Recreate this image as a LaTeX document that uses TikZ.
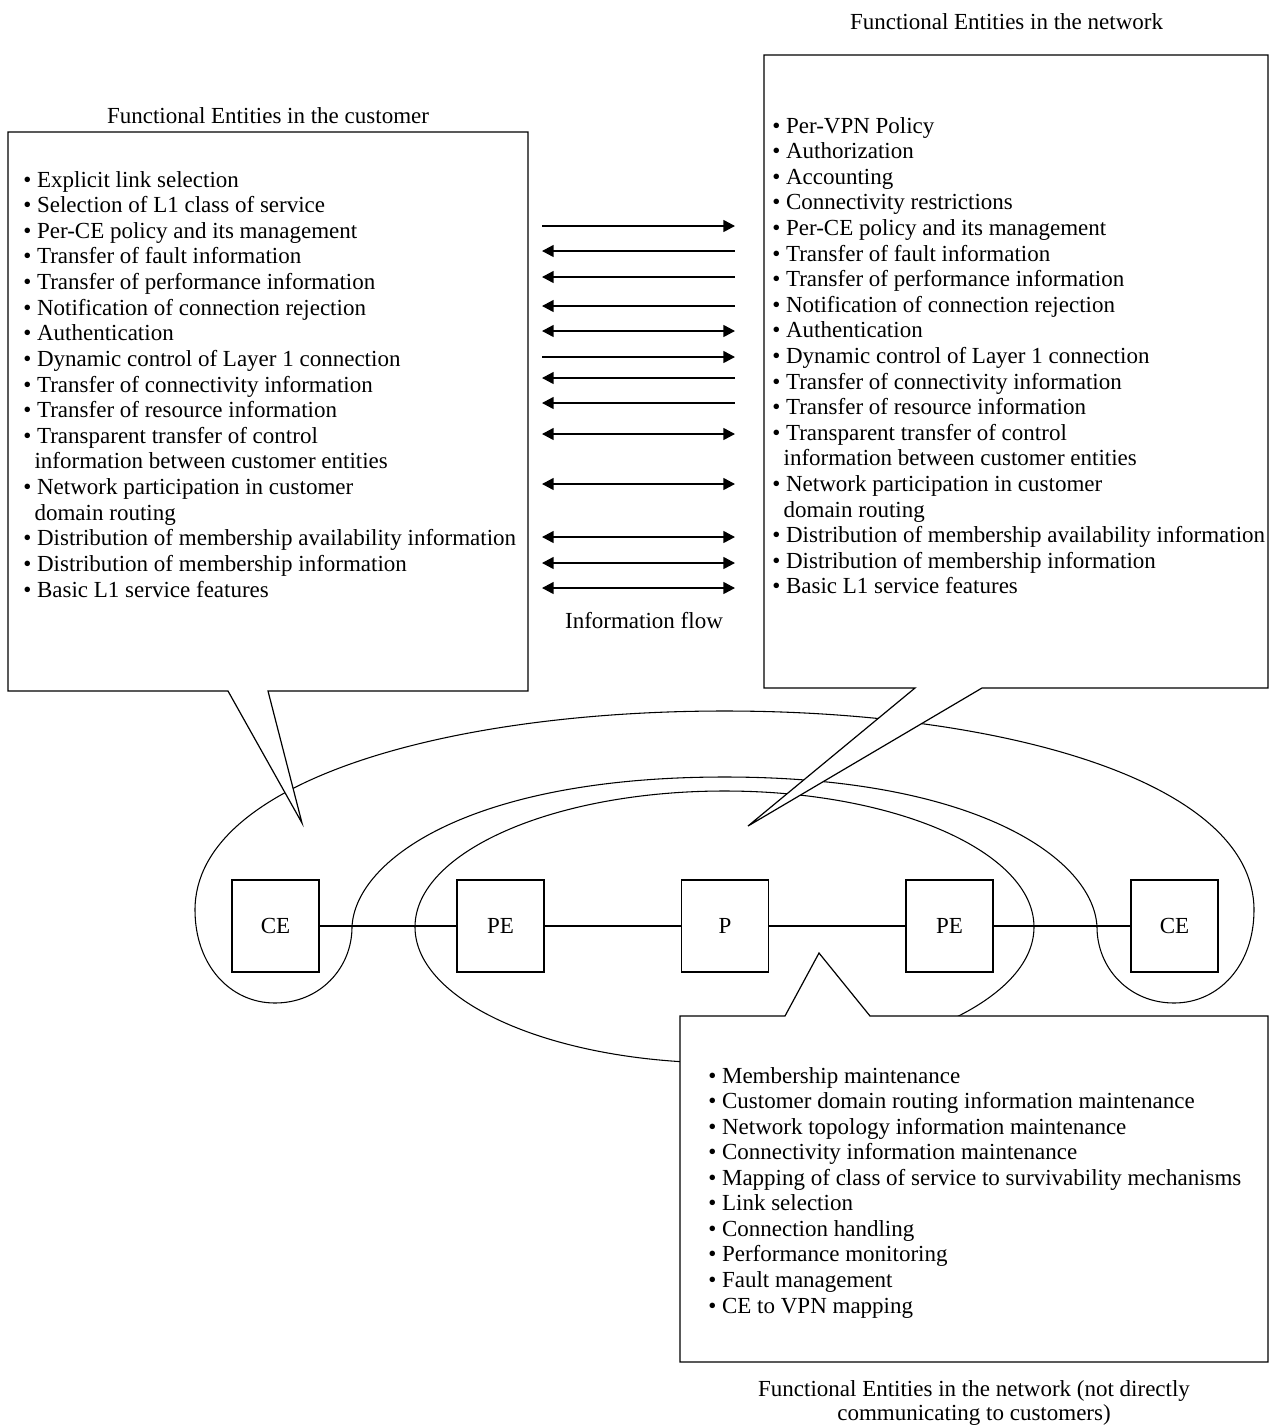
\documentclass[tikz,border=0pt]{standalone}
\usepackage{fontspec}
\setmainfont{Liberation Serif}
\usetikzlibrary{arrows.meta}

\begin{document}
\begin{tikzpicture}[x=0.75pt,y=-0.75pt,
  txt/.style={anchor=base west,inner sep=0pt,font=\fontsize{17.25}{20}\selectfont},
  ctxt/.style={anchor=base,inner sep=0pt,font=\fontsize{17.25}{20}\selectfont},
  entity/.style={draw,line width=0.9pt,fill=white,minimum width=65.25pt,minimum height=69pt,
                 inner sep=0pt,font=\fontsize{17.25}{20}\selectfont},
  callout/.style={draw,line width=0.9pt,fill=white,line join=miter},
  region/.style={draw,line width=0.8pt},
  link/.style={draw,line width=0.8pt},
  flow/.style={line width=1.3pt},
  flowtip/.tip={Triangle[length=8.8pt,width=9pt]}]

\useasboundingbox (0,0) rectangle (1278,1425);
\fill[white] (0,0) rectangle (1278,1425);

% outer region: both customer sites and the provider network
\path[region] (724.5,711)
  .. controls (450,711) and (195,780) .. (195,910)
  .. controls (195,965) and (230,1003) .. (275,1003)
  .. controls (320,1003) and (352,968) .. (352,927)
  .. controls (355,860) and (470,777) .. (724.5,777)
  .. controls (979,777) and (1094,860) .. (1097,927)
  .. controls (1097,968) and (1129,1003) .. (1174,1003)
  .. controls (1219,1003) and (1254,965) .. (1254,910)
  .. controls (1254,780) and (999,711) .. (724.5,711) -- cycle;

% inner region: provider network
\path[region] (724.5,927) ellipse [x radius=309.5, y radius=136];

% network elements
\node[entity] (ce1) at (275.5,926) {CE};
\node[entity] (pe1) at (500.5,926) {PE};
\node[entity] (p)   at (725,926)   {P};
\node[entity] (pe2) at (949.5,926) {PE};
\node[entity] (ce2) at (1174.5,926) {CE};
\path[link] (ce1) -- (pe1);
\path[link] (pe1) -- (p);
\path[link] (p) -- (pe2);
\path[link] (pe2) -- (ce2);

% callouts
\path[callout] (8,132) -- (528,132) -- (528,691) -- (268,691) -- (302,823)
  -- (228,691) -- (8,691) -- cycle;
\path[callout] (764,55) -- (1268,55) -- (1268,688) -- (982,688) -- (748,826)
  -- (915,688) -- (764,688) -- cycle;
\path[callout] (680,1016) -- (785,1016) -- (819,953) -- (870,1016) -- (1268,1016)
  -- (1268,1362) -- (680,1362) -- cycle;

% titles
\node[ctxt] (tcust) at (268,123) {Functional Entities in the customer};
\node[ctxt] (tnet) at (1006.5,29) {Functional Entities in the network};
\node[ctxt] (tcore1) at (974,1396) {Functional Entities in the network (not directly};
\node[ctxt] (tcore2) at (974,1420) {communicating to customers)};
\node[ctxt] (tflow) at (644,628) {Information flow};

% customer side list
\foreach \t [count=\i] in {
  {• Explicit link selection},
  {• Selection of L1 class of service},
  {• Per-CE policy and its management},
  {• Transfer of fault information},
  {• Transfer of performance information},
  {• Notification of connection rejection},
  {• Authentication},
  {• Dynamic control of Layer 1 connection},
  {• Transfer of connectivity information},
  {• Transfer of resource information},
  {• Transparent transfer of control},
  {\hspace*{8.5pt}information between customer entities},
  {• Network participation in customer},
  {\hspace*{8.5pt}domain routing},
  {• Distribution of membership availability information},
  {• Distribution of membership information},
  {• Basic L1 service features}}
  \node[txt] (cl\i) at (23,{187+(\i-1)*25.625}) {\t};

% network side list
\foreach \t [count=\i] in {
  {• Per-VPN Policy},
  {• Authorization},
  {• Accounting},
  {• Connectivity restrictions},
  {• Per-CE policy and its management},
  {• Transfer of fault information},
  {• Transfer of performance information},
  {• Notification of connection rejection},
  {• Authentication},
  {• Dynamic control of Layer 1 connection},
  {• Transfer of connectivity information},
  {• Transfer of resource information},
  {• Transparent transfer of control},
  {\hspace*{8.5pt}information between customer entities},
  {• Network participation in customer},
  {\hspace*{8.5pt}domain routing},
  {• Distribution of membership availability information},
  {• Distribution of membership information},
  {• Basic L1 service features}}
  \node[txt] (nl\i) at (772,{133+(\i-1)*25.6}) {\t};

% core network list
\foreach \t [count=\i] in {
  {• Membership maintenance},
  {• Customer domain routing information maintenance},
  {• Network topology information maintenance},
  {• Connectivity information maintenance},
  {• Mapping of class of service to survivability mechanisms},
  {• Link selection},
  {• Connection handling},
  {• Performance monitoring},
  {• Fault management},
  {• CE to VPN mapping}}
  \node[txt] (kl\i) at (708,{1083+(\i-1)*25.56}) {\t};

% information flows between customer and network
\foreach \yy/\dir [count=\i] in {226/r,251/l,277/l,306/l,331/b,357/r,378/l,403/l,434/b,484/b,537/b,563/b,588/b} {
  \coordinate (fa\i) at (542,\yy);
  \coordinate (fb\i) at (735,\yy);
  \if\dir r \draw[flow,-{flowtip}] (fa\i) -- (fb\i); \fi
  \if\dir l \draw[flow,{flowtip}-] (fa\i) -- (fb\i); \fi
  \if\dir b \draw[flow,{flowtip}-{flowtip}] (fa\i) -- (fb\i); \fi
}
\end{tikzpicture}
\end{document}
